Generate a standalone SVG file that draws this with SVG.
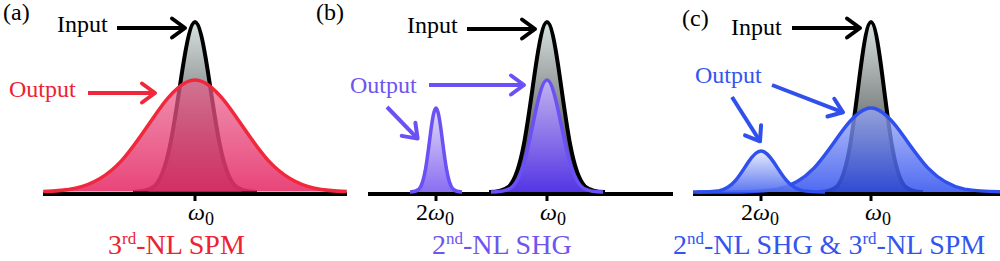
<svg xmlns="http://www.w3.org/2000/svg" width="1000" height="261" viewBox="0 0 1000 261">
<style>
.t{font-family:"Liberation Serif","Times New Roman",serif;font-size:24px}
.cap{font-size:28px}
.in{fill:url(#gIn);stroke:#000;stroke-width:4;stroke-linejoin:round}
.axis{stroke:#000;stroke-width:4;fill:none}
.tick{stroke:#000;stroke-width:3}
.arr{fill:none;stroke-width:4}
.red{fill:#ee2233}.pur{fill:#6e55f0}.blu{fill:#3355ee}
</style>
<defs>
<linearGradient id="gIn" x1="0" y1="0" x2="0" y2="1"><stop offset="0" stop-color="#d8e0e0"/><stop offset="1" stop-color="#303232"/></linearGradient>
<linearGradient id="gRed" x1="0" y1="0" x2="0" y2="1"><stop offset="0" stop-color="#e8608c" stop-opacity="0.7"/><stop offset="1" stop-color="#e6306a" stop-opacity="0.9"/></linearGradient>
<linearGradient id="gPurB" x1="0" y1="0" x2="0" y2="1"><stop offset="0" stop-color="#c4b4f6" stop-opacity="0.92"/><stop offset="1" stop-color="#5636ee" stop-opacity="0.95"/></linearGradient>
<linearGradient id="gPurS" x1="0" y1="0" x2="0" y2="1"><stop offset="0" stop-color="#e2daf9"/><stop offset="1" stop-color="#8a6ef2"/></linearGradient>
<linearGradient id="gBluB" x1="0" y1="0" x2="0" y2="1"><stop offset="0" stop-color="#9aaaf4" stop-opacity="0.75"/><stop offset="1" stop-color="#3050f0" stop-opacity="0.85"/></linearGradient>
<linearGradient id="gBluS" x1="0" y1="0" x2="0" y2="1"><stop offset="0" stop-color="#e2e6fa" stop-opacity="0.85"/><stop offset="1" stop-color="#4a68f0" stop-opacity="0.9"/></linearGradient>
<marker id="mK" markerUnits="userSpaceOnUse" markerWidth="30" markerHeight="30" viewBox="-20 -15 30 30" refX="0" refY="0" orient="auto"><path d="M-13,-9.5 L0,0 L-13,9.5" fill="none" stroke="#000" stroke-width="4" stroke-linejoin="round" stroke-linecap="round"/></marker>
<marker id="mR" markerUnits="userSpaceOnUse" markerWidth="30" markerHeight="30" viewBox="-20 -15 30 30" refX="0" refY="0" orient="auto"><path d="M-13,-9.5 L0,0 L-13,9.5" fill="none" stroke="#f0283c" stroke-width="4" stroke-linejoin="round" stroke-linecap="round"/></marker>
<marker id="mP" markerUnits="userSpaceOnUse" markerWidth="30" markerHeight="30" viewBox="-20 -15 30 30" refX="0" refY="0" orient="auto"><path d="M-13,-9.5 L0,0 L-13,9.5" fill="none" stroke="#6a50f5" stroke-width="4" stroke-linejoin="round" stroke-linecap="round"/></marker>
<marker id="mB" markerUnits="userSpaceOnUse" markerWidth="30" markerHeight="30" viewBox="-20 -15 30 30" refX="0" refY="0" orient="auto"><path d="M-13,-9.5 L0,0 L-13,9.5" fill="none" stroke="#3050ee" stroke-width="4" stroke-linejoin="round" stroke-linecap="round"/></marker>
</defs>

<!-- axes -->
<g id="axes">
<line class="axis" x1="43" y1="194" x2="347" y2="194"/>
<line class="tick" x1="195" y1="194" x2="195" y2="201"/>
<line class="axis" x1="368" y1="194" x2="673" y2="194"/>
<line class="tick" x1="436" y1="194" x2="436" y2="201"/>
<line class="tick" x1="547" y1="194" x2="547" y2="201"/>
<line class="axis" x1="693" y1="194" x2="1000" y2="194"/>
<line class="tick" x1="761" y1="194" x2="761" y2="201"/>
<line class="tick" x1="871" y1="194" x2="871" y2="201"/>
</g>

<!-- panel a -->
<g id="a-input"><path class="in" d="M133,192 C140.23,192 147.47,191.66 154.7,186.22 C159.87,181.2 165.03,169.950 170.2,144.74 C174.33,124.58 178.47,94.9 182.6,68.56 C186.73,42.23 190.87,22 195,22 C199.13,22 203.27,42.23 207.4,68.56 C211.53,94.9 215.67,124.58 219.8,144.74 C224.97,169.95 230.13,181.2 235.3,186.22 C242.53,191.66 249.77,192 257,192"/></g>
<g id="a-output"><path fill="url(#gRed)" stroke="#f0283c" stroke-width="3.5" stroke-linejoin="round" d="M43.2,191.52 C53.93,191.14 64.67,190.5 75.4,188.19 C90.73,184.89 106.07,177.47 121.4,160.86 C133.67,147.58 145.93,128.03 158.2,110.68 C170.47,93.33 182.73,80 195,80 C207.27,80 219.53,93.33 231.8,110.68 C244.07,128.03 256.33,147.58 268.6,160.86 C283.93,177.47 299.27,184.89 314.6,188.19 C325.33,190.5 336.07,191.14 346.8,191.52"/></g>

<!-- panel b -->
<g id="b-input"><path class="in" d="M489,192 C495.77,192 502.53,191.66 509.3,186.22 C514.13,181.2 518.97,169.95 523.8,144.74 C527.67,124.58 531.53,94.9 535.4,68.56 C539.27,42.23 543.13,22 547,22 C550.87,22 554.73,42.23 558.6,68.56 C562.47,94.9 566.33,124.58 570.2,144.74 C575.03,169.95 579.87,181.2 584.7,186.22 C591.47,191.66 598.23,192 605,192"/></g>
<g id="b-output-main"><path fill="url(#gPurB)" stroke="#6a50f5" stroke-width="3.5" stroke-linejoin="round" d="M491,192 C497.53,192 504.07,191.78 510.6,188.19 C515.27,184.89 519.93,177.47 524.6,160.86 C528.33,147.58 532.07,128.03 535.8,110.68 C539.53,93.33 543.27,80 547,80 C550.73,80 554.47,93.33 558.2,110.68 C561.93,128.03 565.67,147.58 569.4,160.86 C574.07,177.47 578.73,184.89 583.4,188.19 C589.93,191.78 596.47,192 603,192"/></g>
<g id="b-output-shg"><path fill="url(#gPurS)" stroke="#6a50f5" stroke-width="3.5" stroke-linejoin="round" d="M410,192 C413.03,192 416.07,191.83 419.1,189.14 C421.27,186.67 423.43,181.11 425.6,168.65 C427.33,158.69 429.07,144.02 430.8,131.01 C432.53,118 434.27,108 436,108 C437.73,108 439.47,118 441.2,131.01 C442.93,144.02 444.67,158.69 446.4,168.65 C448.57,181.11 450.73,186.67 452.9,189.14 C455.93,191.83 458.97,192 462,192"/></g>

<!-- panel c -->
<g id="c-input"><path class="in" d="M819,192 C825.07,192 831.13,191.66 837.2,186.22 C841.53,181.2 845.87,169.95 850.2,144.74 C853.67,124.58 857.13,94.9 860.6,68.56 C864.07,42.23 867.53,22 871,22 C874.47,22 877.93,42.23 881.4,68.56 C884.87,94.9 888.33,124.58 891.8,144.74 C896.13,169.95 900.47,181.2 904.8,186.22 C910.87,191.66 916.93,192 923,192"/></g>
<g id="c-output-main"><path fill="url(#gBluB)" stroke="#3050ee" stroke-width="3.5" stroke-linejoin="round" d="M693,192 L727,192 C743.8,192 760.6,191.83 777.4,189.14 C789.4,186.67 801.4,181.11 813.4,168.65 C823,158.69 832.6,144.02 842.2,131.01 C851.8,118 861.4,108 871,108 C880.6,108 890.2,118 899.8,131.01 C909.4,144.02 919,158.69 928.6,168.65 C940.6,181.11 952.6,186.67 964.6,189.14 C981.4,191.83 998.2,192 1015,192"/></g>
<g id="c-output-shg"><path fill="url(#gBluS)" stroke="#3050ee" stroke-width="3.5" stroke-linejoin="round" d="M697,192 C704.47,192 711.93,191.92 719.4,190.61 C724.73,189.4 730.07,186.68 735.4,180.6 C739.67,175.74 743.93,168.58 748.2,162.23 C752.47,155.88 756.73,151 761,151 C765.27,151 769.53,155.88 773.8,162.23 C778.07,168.58 782.33,175.74 786.6,180.6 C791.93,186.68 797.27,189.4 802.6,190.61 C810.07,191.92 817.53,192 825,192"/></g>

<!-- connectors -->
<g id="connectors">
<line class="arr" stroke="#000" x1="117" y1="28" x2="185" y2="28" marker-end="url(#mK)"/>
<line class="arr" stroke="#f0283c" x1="88" y1="93" x2="155" y2="93" marker-end="url(#mR)"/>
<line class="arr" stroke="#000" x1="467" y1="29" x2="535" y2="29" marker-end="url(#mK)"/>
<line class="arr" stroke="#6a50f5" x1="429" y1="85" x2="524" y2="85" marker-end="url(#mP)"/>
<line class="arr" stroke="#6a50f5" x1="387" y1="107" x2="417.6" y2="138.6" marker-end="url(#mP)"/>
<line class="arr" stroke="#000" x1="792" y1="28" x2="860" y2="28" marker-end="url(#mK)"/>
<line class="arr" stroke="#3050ee" x1="772" y1="85" x2="843" y2="112.3" marker-end="url(#mB)"/>
<line class="arr" stroke="#3050ee" x1="732" y1="97" x2="760" y2="141.3" marker-end="url(#mB)"/>
</g>

<!-- labels -->
<g id="label-a"><text class="t" x="3" y="20">(a)</text></g>
<g id="label-a-input"><text class="t" x="57" y="32">Input</text></g>
<g id="label-a-output"><text class="t red" x="9" y="97">Output</text></g>
<g id="label-a-w0"><text class="t" x="188" y="220"><tspan font-style="italic">ω</tspan><tspan font-size="18" dy="5">0</tspan></text></g>
<g id="label-a-cap"><text class="t cap red" x="108" y="254">3<tspan font-size="17" dy="-10">rd</tspan><tspan dy="10">-NL SPM</tspan></text></g>

<g id="label-b"><text class="t" x="316" y="20">(b)</text></g>
<g id="label-b-input"><text class="t" x="407" y="33">Input</text></g>
<g id="label-b-output"><text class="t pur" x="350" y="93">Output</text></g>
<g id="label-b-2w0"><text class="t" x="416" y="220">2<tspan font-style="italic">ω</tspan><tspan font-size="18" dy="5">0</tspan></text></g>
<g id="label-b-w0"><text class="t" x="540" y="220"><tspan font-style="italic">ω</tspan><tspan font-size="18" dy="5">0</tspan></text></g>
<g id="label-b-cap"><text class="t cap pur" x="432" y="254">2<tspan font-size="17" dy="-10">nd</tspan><tspan dy="10">-NL SHG</tspan></text></g>

<g id="label-c"><text class="t" x="682" y="26">(c)</text></g>
<g id="label-c-input"><text class="t" x="731" y="35">Input</text></g>
<g id="label-c-output"><text class="t blu" x="695" y="83">Output</text></g>
<g id="label-c-2w0"><text class="t" x="741" y="220">2<tspan font-style="italic">ω</tspan><tspan font-size="18" dy="5">0</tspan></text></g>
<g id="label-c-w0"><text class="t" x="865" y="220"><tspan font-style="italic">ω</tspan><tspan font-size="18" dy="5">0</tspan></text></g>
<g id="label-c-cap"><text class="t cap blu" x="673" y="254">2<tspan font-size="17" dy="-10">nd</tspan><tspan dy="10">-NL SHG &amp; 3</tspan><tspan font-size="17" dy="-10">rd</tspan><tspan dy="10">-NL SPM</tspan></text></g>
</svg>
